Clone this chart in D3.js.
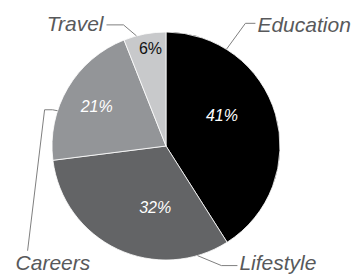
<!DOCTYPE html>
<html>
<head>
<meta charset="utf-8">
<script src="https://cdn.jsdelivr.net/npm/d3@7"></script>
<style>
  body { margin: 0; background: #fff; }
  svg { display: block; }
  text { font-family: "Liberation Sans", Arial, sans-serif; }
</style>
</head>
<body>
<svg width="360" height="274"></svg>
<script>
var categories = ["Education", "Lifestyle", "Careers", "Travel"];
var values = [41, 32, 21, 6];
var sliceColors = ["#000000", "#636466", "#939598", "#c8c9cb"];
var pctColors = ["#ffffff", "#ffffff", "#ffffff", "#111111"];

// where the percentage sits (degrees clockwise from top, radius)
var pctPos = [[61, 64], [190, 62], [300, 80], [351, 99]];
// leader line: anchor angle on the rim, then offsets (px) from that anchor, then text offset
var leaders = [
  { angle: 32,  pts: [[19, -26], [29, -26]], text: [31, -17], anchor: "start" },
  { angle: 164, pts: [[24, 10], [40, 10]],   text: [42, 14],  anchor: "start" },
  { angle: 288, pts: [[-5, -1], [-13, -1], [-30, 140]], text: [-42, 159], anchor: "start" },
  { angle: 345, pts: [[-13, -11], [-30, -11]], text: [-33, -5], anchor: "end" }
];

var svg = d3.select("svg"),
    width = +svg.attr("width"),
    height = +svg.attr("height");

var cx = 166, cy = 146, radius = 114;

var pie = d3.pie().sort(null).value(function(d) { return d; });
var arcs = pie(values);

var arc = d3.arc().innerRadius(0).outerRadius(radius);

var g = svg.append("g").attr("transform", "translate(" + cx + "," + cy + ")");

g.selectAll("path.slice")
  .data(arcs)
  .enter().append("path")
  .attr("class", "slice")
  .attr("d", arc)
  .attr("fill", function(d, i) { return sliceColors[i]; })
  .attr("stroke", "#fff")
  .attr("stroke-width", 0.8);

function polar(deg, r) {
  var a = deg * Math.PI / 180;
  return [r * Math.sin(a), -r * Math.cos(a)];
}

g.selectAll("text.pct")
  .data(arcs)
  .enter().append("text")
  .attr("class", "pct")
  .attr("x", function(d, i) { return polar(pctPos[i][0], pctPos[i][1])[0]; })
  .attr("y", function(d, i) { return polar(pctPos[i][0], pctPos[i][1])[1]; })
  .attr("dy", "0.35em")
  .attr("text-anchor", "middle")
  .attr("font-size", 16)
  .attr("font-style", function(d, i) { return i == 3 ? "normal" : "italic"; })
  .attr("fill", function(d, i) { return pctColors[i]; })
  .text(function(d) { return d.data + "%"; });

var line = d3.line();

leaders.forEach(function(l, i) {
  var p0 = polar(l.angle, radius);
  var pts = [p0].concat(l.pts.map(function(p) { return [p0[0] + p[0], p0[1] + p[1]]; }));
  g.append("path")
    .attr("d", line(pts))
    .attr("fill", "none")
    .attr("stroke", "#7f7f7f")
    .attr("stroke-width", 1);
  g.append("text")
    .attr("x", p0[0] + l.text[0])
    .attr("y", p0[1] + l.text[1])
    .attr("text-anchor", l.anchor)
    .attr("font-size", 21)
    .attr("font-style", "italic")
    .attr("fill", "#58595b")
    .text(categories[i]);
});
</script>
</body>
</html>
